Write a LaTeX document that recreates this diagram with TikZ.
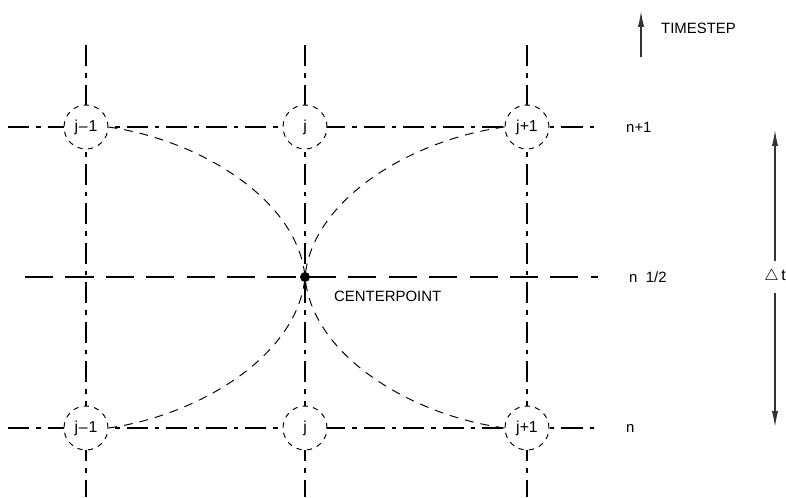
\documentclass[tikz,border=0pt]{standalone}
\usepackage{fontspec}
\setmainfont{Liberation Sans}
\usetikzlibrary{arrows.meta,positioning}
\tikzset{
  gridline/.style={line width=0.65pt,dash pattern=on 12pt off 4pt on 2.5pt off 4pt},
  halfline/.style={line width=0.65pt,dash pattern=on 16pt off 7pt},
  curveline/.style={line width=0.55pt,dash pattern=on 5pt off 4pt},
  gridpt/.style={circle,draw,fill=white,line width=0.55pt,dash pattern=on 3pt off 3pt,
    minimum size=0.88cm,inner sep=0pt,font=\fontsize{9}{10}\selectfont},
  levellabel/.style={anchor=west,font=\fontsize{8.5}{10}\selectfont},
  dimarrow/.style={-{Latex[length=9pt,width=3.5pt]},line width=0.65pt,draw=black!80}
}

\begin{document}
\begin{tikzpicture}[x=0.02cm,y=-0.02cm]
  \useasboundingbox (0,0) rectangle (786,497);

  % grid lines
  \foreach \x in {86,305,527}
    \draw[gridline] (\x,45) -- (\x,497);
  \draw[gridline] (8,127) -- (598,127);
  \draw[gridline] (8,428) -- (598,428);
  \draw[halfline] (25,277) -- (598,277);

  % grid points
  \node[gridpt] (jm1up) at (86,127) {j\kern0.5pt–\kern0.5pt1};
  \node[gridpt] (jup) at (305,127) {j};
  \node[gridpt] (jp1up) at (527,127) {j+1};
  \node[gridpt] (jm1dn) at (86,428) {j\kern0.5pt–\kern0.5pt1};
  \node[gridpt] (jdn) at (305,428) {j};
  \node[gridpt] (jp1dn) at (527,428) {j+1};

  \node[circle,fill,inner sep=0pt,minimum size=0.2cm] (ctr) at (305,277) {};
  \node[levellabel] (ctrlabel) at (328,296) {CENTERPOINT};

  \draw[curveline] (jm1up.east) .. controls (200,140) and (298,200) .. (ctr.center);
  \draw[curveline] (jp1up.west) .. controls (410,140) and (312,200) .. (ctr.center);
  \draw[curveline] (jm1dn.east) .. controls (200,415) and (298,355) .. (ctr.center);
  \draw[curveline] (jp1dn.west) .. controls (410,415) and (312,355) .. (ctr.center);

  % level labels
  \node[levellabel] (lvup) at (620,127) {n+1};
  \node[levellabel] (lvhalf) at (623,277) {n\ \ 1/2};
  \node[levellabel] (lvdn) at (620,428) {n};

  % timestep arrow
  \coordinate (tsfoot) at (641,57);
  \coordinate (tshead) at (641,11);
  \draw[dimarrow] (tsfoot) -- (tshead);
  \node[levellabel] (tslabel) at (655,28) {TIMESTEP};

  % delta t
  \node[inner sep=0pt,minimum height=0.62cm,font=\fontsize{9}{10}\selectfont]
    (dt) at (775,277) {$\triangle$\,t};
  \coordinate (dttop) at (775,130);
  \coordinate (dtbot) at (775,427);
  \draw[dimarrow] (dt.north) -- (dttop);
  \draw[dimarrow] (dt.south) -- (dtbot);
\end{tikzpicture}
\end{document}
